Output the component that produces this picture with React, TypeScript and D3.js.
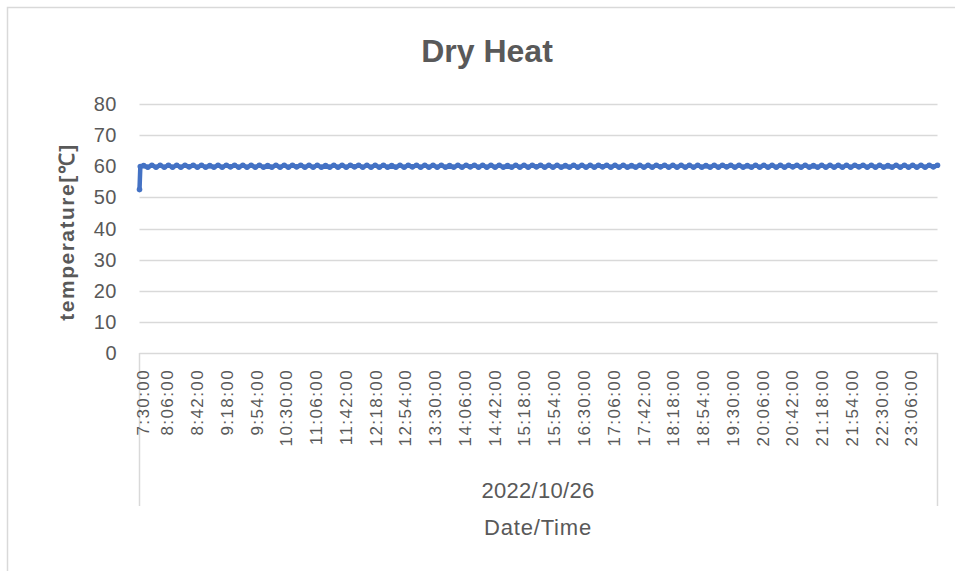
import React, { useEffect, useRef } from "react";
import * as d3 from "d3";

// logger readings on 2022/10/26
const times = [
  "7:30", "7:31", "7:35", "7:40", "7:45", "7:50", "7:55",
  "8:00", "8:05", "8:10", "8:15", "8:20", "8:25", "8:30", "8:35", "8:40", "8:45", "8:50", "8:55",
  "9:00", "9:05", "9:10", "9:15", "9:20", "9:25", "9:30", "9:35", "9:40", "9:45", "9:50", "9:55",
  "10:00", "10:05", "10:10", "10:15", "10:20", "10:25", "10:30", "10:35", "10:40", "10:45", "10:50", "10:55",
  "11:00", "11:05", "11:10", "11:15", "11:20", "11:25", "11:30", "11:35", "11:40", "11:45", "11:50", "11:55",
  "12:00", "12:05", "12:10", "12:15", "12:20", "12:25", "12:30", "12:35", "12:40", "12:45", "12:50", "12:55",
  "13:00", "13:05", "13:10", "13:15", "13:20", "13:25", "13:30", "13:35", "13:40", "13:45", "13:50", "13:55",
  "14:00", "14:05", "14:10", "14:15", "14:20", "14:25", "14:30", "14:35", "14:40", "14:45", "14:50", "14:55",
  "15:00", "15:05", "15:10", "15:15", "15:20", "15:25", "15:30", "15:35", "15:40", "15:45", "15:50", "15:55",
  "16:00", "16:05", "16:10", "16:15", "16:20", "16:25", "16:30", "16:35", "16:40", "16:45", "16:50", "16:55",
  "17:00", "17:05", "17:10", "17:15", "17:20", "17:25", "17:30", "17:35", "17:40", "17:45", "17:50", "17:55",
  "18:00", "18:05", "18:10", "18:15", "18:20", "18:25", "18:30", "18:35", "18:40", "18:45", "18:50", "18:55",
  "19:00", "19:05", "19:10", "19:15", "19:20", "19:25", "19:30", "19:35", "19:40", "19:45", "19:50", "19:55",
  "20:00", "20:05", "20:10", "20:15", "20:20", "20:25", "20:30", "20:35", "20:40", "20:45", "20:50", "20:55",
  "21:00", "21:05", "21:10", "21:15", "21:20", "21:25", "21:30", "21:35", "21:40", "21:45", "21:50", "21:55",
  "22:00", "22:05", "22:10", "22:15", "22:20", "22:25", "22:30", "22:35", "22:40", "22:45", "22:50", "22:55",
  "23:00", "23:05", "23:10", "23:15", "23:20", "23:25", "23:30", "23:35",
];

const temps = [
  52.5, 59.9, 60.2, 59.7, 60.3, 59.7, 60.3,
  59.7, 60.3, 59.7, 60.3, 59.7, 60.3, 59.8, 60.3, 59.7, 60.3, 59.7, 60.2,
  59.7, 60.3, 59.7, 60.3, 59.8, 60.3, 59.7, 60.3, 59.7, 60.3, 59.7, 60.3,
  59.7, 60.2, 59.7, 60.3, 59.7, 60.3, 59.7, 60.3, 59.8, 60.3, 59.7, 60.3,
  59.7, 60.3, 59.7, 60.2, 59.7, 60.3, 59.7, 60.3, 59.7, 60.3, 59.8, 60.3,
  59.7, 60.3, 59.7, 60.3, 59.7, 60.3, 59.7, 60.2, 59.7, 60.3, 59.7, 60.3,
  59.8, 60.3, 59.7, 60.3, 59.7, 60.3, 59.7, 60.3, 59.7, 60.2, 59.7, 60.3,
  59.7, 60.3, 59.8, 60.3, 59.7, 60.3, 59.7, 60.3, 59.7, 60.3, 59.7, 60.2,
  59.7, 60.3, 59.7, 60.3, 59.7, 60.3, 59.8, 60.3, 59.7, 60.3, 59.7, 60.3,
  59.7, 60.2, 59.7, 60.3, 59.7, 60.3, 59.7, 60.3, 59.7, 60.3, 59.8, 60.3,
  59.7, 60.3, 59.7, 60.3, 59.7, 60.2, 59.7, 60.3, 59.7, 60.3, 59.7, 60.3,
  59.8, 60.3, 59.7, 60.3, 59.7, 60.3, 59.7, 60.3, 59.7, 60.3, 59.7, 60.2,
  59.7, 60.3, 59.7, 60.3, 59.8, 60.3, 59.7, 60.3, 59.7, 60.2, 59.7, 60.3,
  59.7, 60.3, 59.7, 60.3, 59.7, 60.3, 59.7, 60.3, 59.8, 60.3, 59.7, 60.3,
  59.7, 60.2, 59.7, 60.3, 59.7, 60.3, 59.7, 60.3, 59.7, 60.3, 59.7, 60.3,
  59.8, 60.3, 59.7, 60.3, 59.7, 60.3, 59.7, 60.2, 59.7, 60.3, 59.7, 60.3,
  59.7, 60.3, 59.7, 60.3, 59.7, 60.3, 59.8, 60.3,
];

const yTicks = [0, 10, 20, 30, 40, 50, 60, 70, 80];

const xLabels = [
  "7:30:00", "8:06:00", "8:42:00", "9:18:00", "9:54:00", "10:30:00", "11:06:00",
  "11:42:00", "12:18:00", "12:54:00", "13:30:00", "14:06:00", "14:42:00", "15:18:00",
  "15:54:00", "16:30:00", "17:06:00", "17:42:00", "18:18:00", "18:54:00", "19:30:00",
  "20:06:00", "20:42:00", "21:18:00", "21:54:00", "22:30:00", "23:06:00",
];

const dateLabel = "2022/10/26";
const chartTitle = "Dry Heat";
const yTitle = "temperature[℃]";
const xTitle = "Date/Time";

const W = 955;
const H = 571;
const textGrey = "#595959";
const lineGrey = "#d9d9d9";
const blue = "#4472c4";
const font = "'Liberation Sans', Arial, sans-serif";

const toMin = (t: string) => {
  const p = t.split(":");
  return +p[0] * 60 + +p[1];
};

const App = () => {
  const ref = useRef<SVGSVGElement>(null);

  useEffect(() => {
    const svg = d3.select(ref.current);
    svg.selectAll("*").remove();

    const left = 139.5, right = 937.5, top = 104, bottom = 353;

    const x = d3.scaleLinear()
      .domain([toMin(times[0]), toMin(times[times.length - 1])])
      .range([left, right]);
    const y = d3.scaleLinear().domain([0, 80]).range([bottom, top]);

    // chart frame (only top and left edge are in the picture)
    svg.append("path")
      .attr("d", `M7.5,${H} V7.5 H${W}`)
      .attr("fill", "none")
      .attr("stroke", lineGrey)
      .attr("stroke-width", 1.5);

    svg.append("text")
      .attr("x", 487)
      .attr("y", 62)
      .attr("text-anchor", "middle")
      .attr("font-family", font)
      .attr("font-weight", "bold")
      .attr("font-size", 32)
      .attr("fill", textGrey)
      .text(chartTitle);

    // gridlines
    svg.append("g").selectAll("line")
      .data(yTicks)
      .join("line")
      .attr("x1", left)
      .attr("x2", right)
      .attr("y1", d => Math.round(y(d)) + 0.5)
      .attr("y2", d => Math.round(y(d)) + 0.5)
      .attr("stroke", lineGrey)
      .attr("stroke-width", 1.3);

    // category box below axis
    svg.append("g").selectAll("line")
      .data([left, right])
      .join("line")
      .attr("x1", d => d)
      .attr("x2", d => d)
      .attr("y1", bottom)
      .attr("y2", 506)
      .attr("stroke", lineGrey)
      .attr("stroke-width", 1.5);

    svg.append("g").selectAll("text")
      .data(yTicks)
      .join("text")
      .attr("x", 117)
      .attr("y", d => y(d))
      .attr("dy", "0.35em")
      .attr("text-anchor", "end")
      .attr("font-family", font)
      .attr("font-size", 20)
      .attr("letter-spacing", 0.5)
      .attr("fill", textGrey)
      .text(d => d);

    svg.append("g").selectAll("text")
      .data(xLabels)
      .join("text")
      .attr("transform", d => `translate(${Math.max(x(toMin(d)) - 2, 143)},369) rotate(-90)`)
      .attr("dy", "0.35em")
      .attr("text-anchor", "end")
      .attr("font-family", font)
      .attr("font-size", 17)
      .attr("letter-spacing", 1.4)
      .attr("fill", textGrey)
      .text(d => d);

    svg.append("text")
      .attr("transform", "translate(67,232) rotate(-90)")
      .attr("dy", "0.35em")
      .attr("text-anchor", "middle")
      .attr("font-family", font)
      .attr("font-weight", "bold")
      .attr("font-size", 21)
      .attr("letter-spacing", 1.5)
      .attr("fill", textGrey)
      .text(yTitle);

    svg.append("text")
      .attr("x", 538)
      .attr("y", 490)
      .attr("dy", "0.35em")
      .attr("text-anchor", "middle")
      .attr("font-family", font)
      .attr("font-size", 22)
      .attr("letter-spacing", 0.3)
      .attr("fill", textGrey)
      .text(dateLabel);

    svg.append("text")
      .attr("x", 538)
      .attr("y", 527)
      .attr("dy", "0.35em")
      .attr("text-anchor", "middle")
      .attr("font-family", font)
      .attr("font-size", 22)
      .attr("letter-spacing", 0.8)
      .attr("fill", textGrey)
      .text(xTitle);

    const line = d3.line<number>()
      .x((_, i) => x(toMin(times[i])))
      .y(d => y(d));

    svg.append("path")
      .datum(temps)
      .attr("d", line)
      .attr("fill", "none")
      .attr("stroke", blue)
      .attr("stroke-width", 4.5)
      .attr("stroke-linejoin", "round")
      .attr("stroke-linecap", "round");

    // markers at each reading
    svg.append("g").selectAll("circle")
      .data(temps)
      .join("circle")
      .attr("cx", (_, i) => x(toMin(times[i])))
      .attr("cy", d => y(d))
      .attr("r", 2.8)
      .attr("fill", blue);
  }, []);

  return (
    <svg
      ref={ref}
      width={W}
      height={H}
      style={{ position: "absolute", left: 0, top: 0, background: "#fff" }}
    />
  );
};

export default App;
